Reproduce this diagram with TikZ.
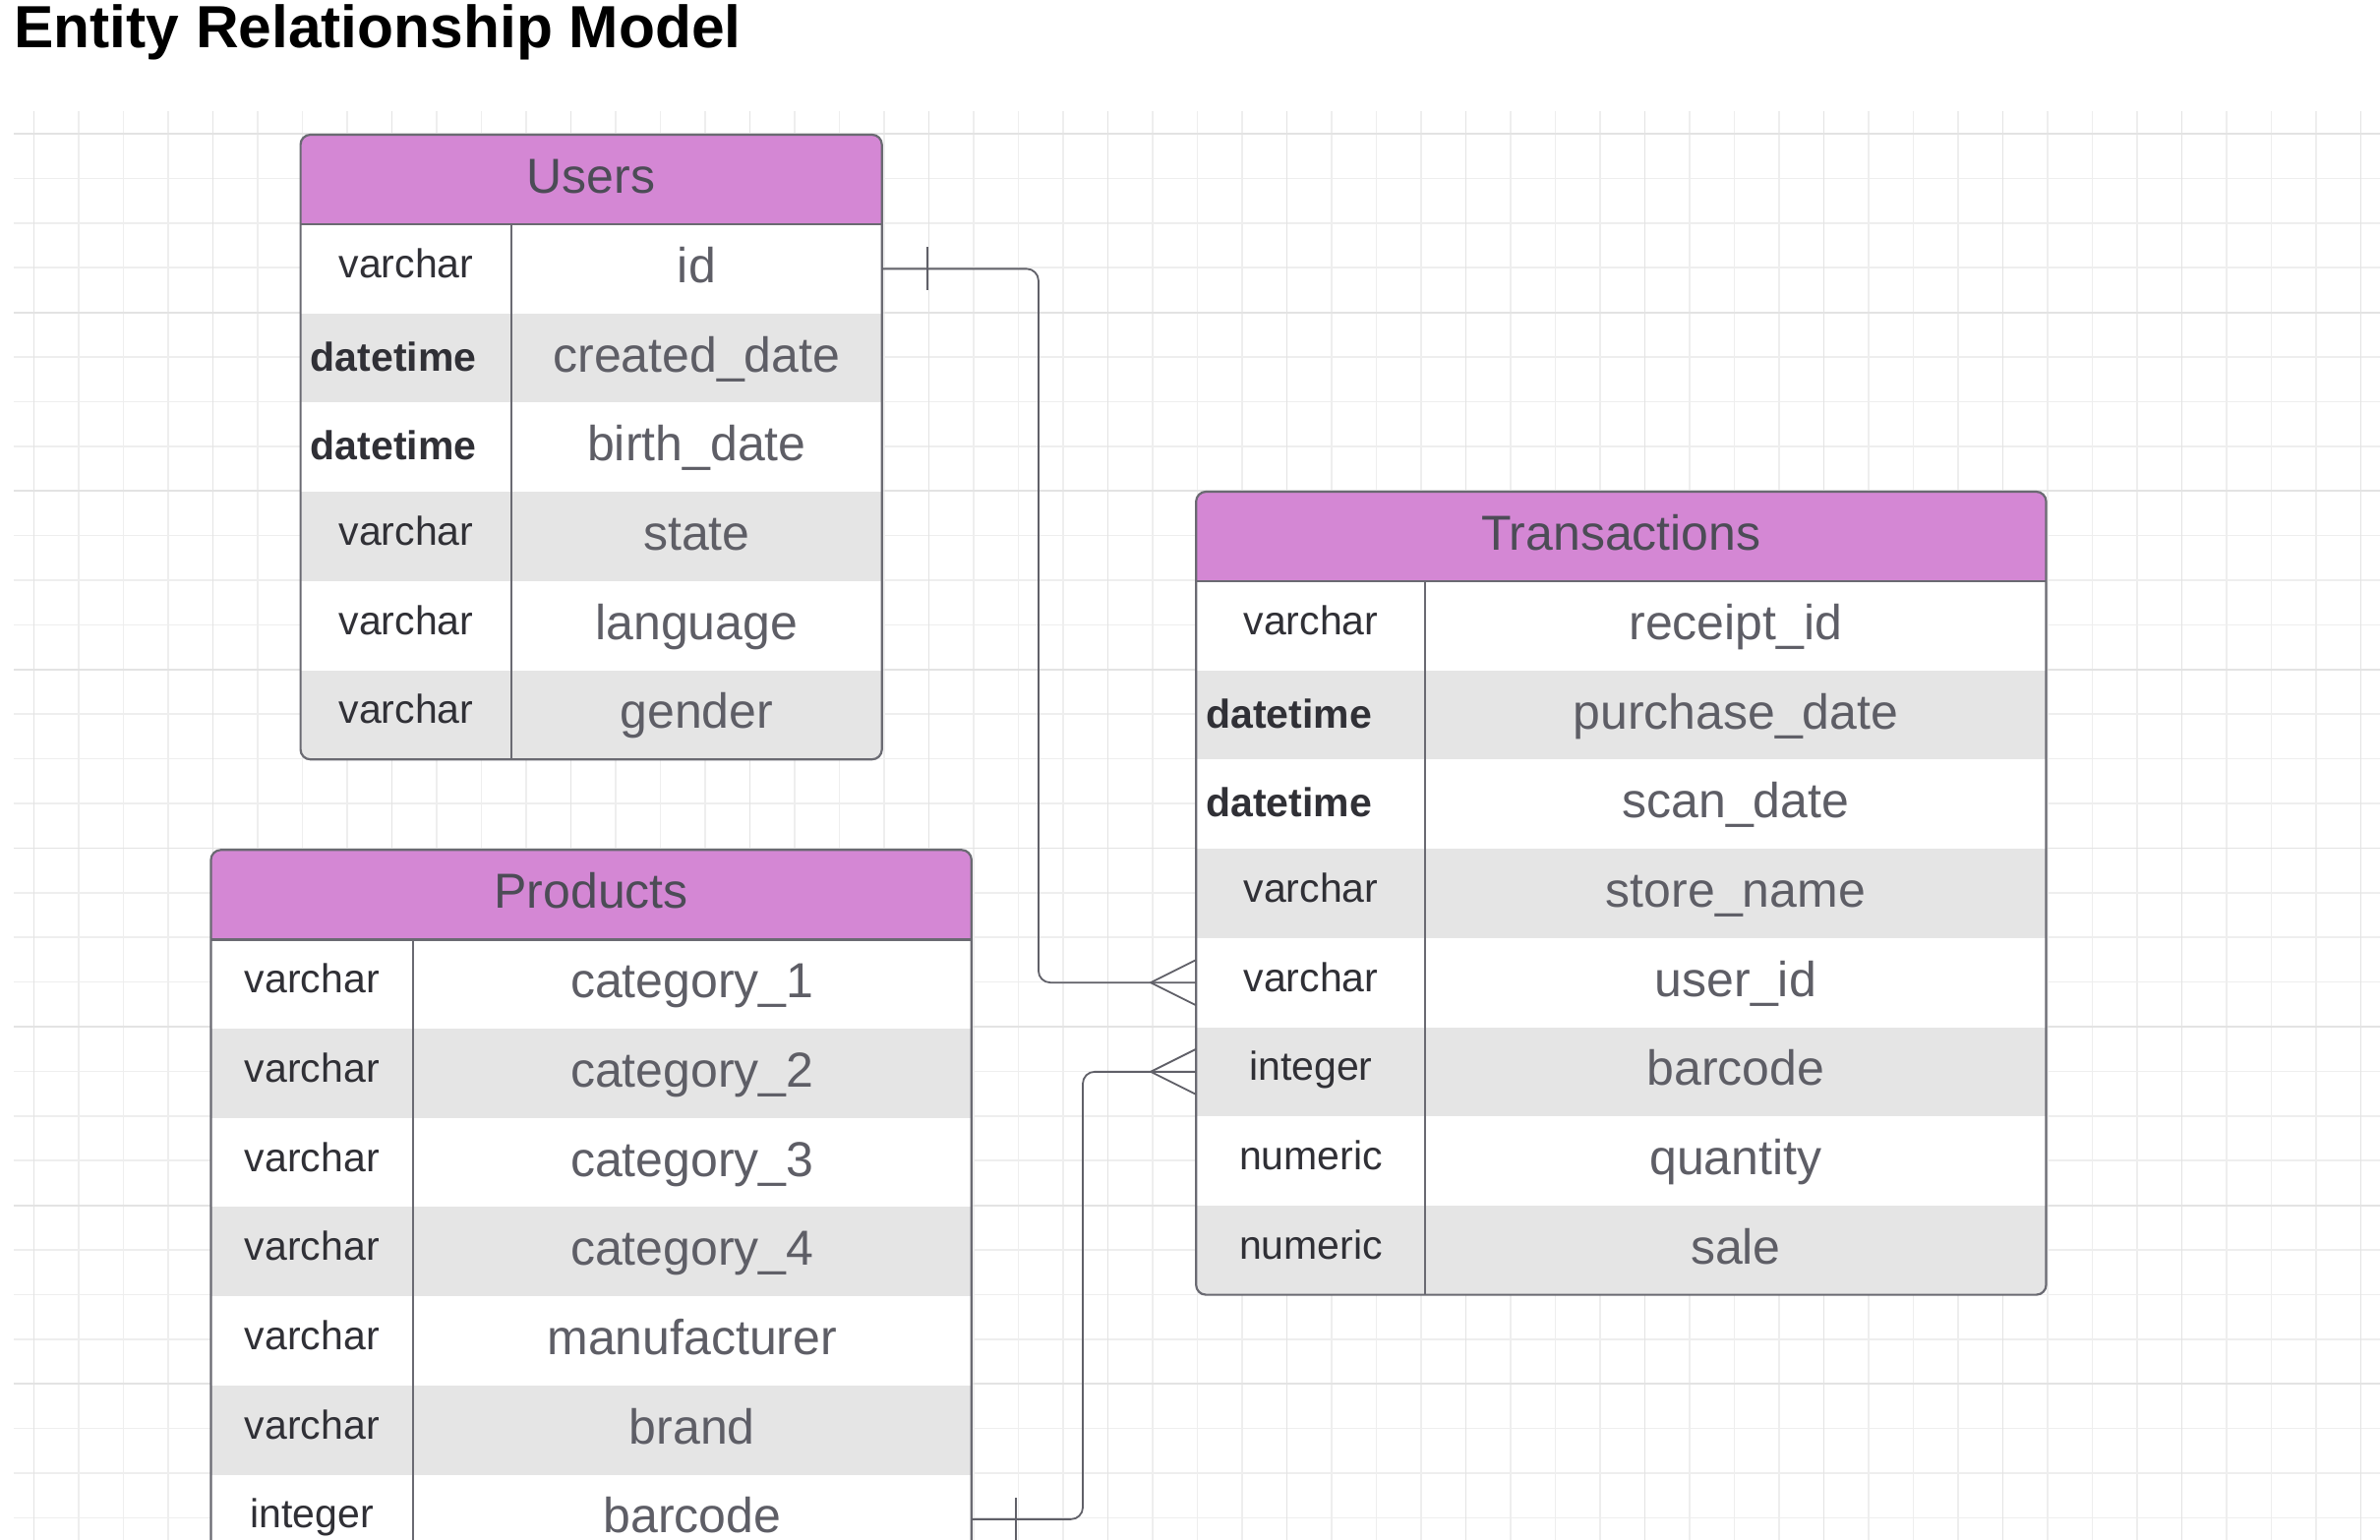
\documentclass[tikz,border=0pt]{standalone}
\usepackage{fontspec}
\setmainfont{Liberation Sans}
\definecolor{hdrpink}{HTML}{D487D4}
\definecolor{rowgray}{HTML}{E5E5E5}
\definecolor{edgecol}{HTML}{6A6A72}
\definecolor{hdrtext}{HTML}{4C4C56}
\definecolor{fieldtext}{HTML}{5E5E66}
\definecolor{typetext}{HTML}{303036}
\definecolor{gridminor}{HTML}{EEEEEE}
\definecolor{gridmajor}{HTML}{E3E3E3}
\definecolor{wirecol}{HTML}{606068}
\tikzset{
  gridline/.style={gridminor, line width=1.6pt},
  gridbold/.style={gridmajor, line width=1.8pt},
  hdrtitle/.style={inner sep=0pt, minimum height=91pt, text height=38pt, text depth=10pt,
    font=\fontsize{50}{60}\selectfont, text=hdrtext},
  fieldcell/.style={inner sep=0pt, minimum height=90.7pt, text height=38pt, text depth=10pt,
    font=\fontsize{50}{60}\selectfont, text=fieldtext},
  typecell/.style={anchor=west, inner sep=0pt, minimum width=\erdTW pt, minimum height=90.7pt,
    text height=30pt, text depth=12pt, font=\fontsize{41}{49}\selectfont, text=typetext},
  typebold/.style={anchor=west, xshift=10pt, inner sep=0pt, minimum height=90.7pt,
    text height=36pt, text depth=10pt, font=\bfseries\fontsize{41}{49}\selectfont, text=typetext},
  rowbox/.style={inner sep=0pt, minimum height=90.7pt},
  edgeline/.style={edgecol, line width=2.2pt},
  wire/.style={wirecol, line width=1.8pt, line join=round},
}
% #1 prefix, #2 title, #3 L, #4 D, #5 R, #6 T, #7 rows, #8 list name/type/field/style
\newcommand\erdtable[8]{%
  \pgfmathsetmacro\erdHB{#6+91}%
  \pgfmathsetmacro\erdB{#6+91+90.7*#7}%
  \pgfmathsetmacro\erdTW{#4-#3}%
  \begin{scope}
    \clip[rounded corners=10pt] (#3,#6) rectangle (#5,\erdB);
    \fill[white] (#3,#6) rectangle (#5,\erdB);
    \fill[hdrpink] (#3,#6) rectangle (#5,\erdHB);
    \foreach \nm/\ty/\fd/\st [count=\i] in {#8} {
      \pgfmathsetmacro\ya{\erdHB+90.7*(\i-1)}
      \ifodd\i\else\fill[rowgray] (#3,\ya) rectangle (#5,{\ya+90.7});\fi
    }
  \end{scope}
  \node[hdrtitle, minimum width={(#5-#3)*1pt}] (#1) at ({(#3+#5)/2},{#6+45.5}) {#2};
  \foreach \nm/\ty/\fd/\st [count=\i] in {#8} {
    \pgfmathsetmacro\yc{\erdHB+90.7*(\i-0.5)}
    \node[rowbox, minimum width={(#5-#3)*1pt}] (#1-\nm) at ({(#3+#5)/2},\yc) {};
    \node[fieldcell, minimum width={(#5-#4)*1pt}] (#1-\nm-f) at ({(#4+#5)/2},\yc) {\fd};
    \node[\st] (#1-\nm-t) at (#3,\yc) {\ty};
  }
  \draw[edgeline, line width=2.8pt] (#3,\erdHB) -- (#5,\erdHB);
  \draw[edgeline] (#4,\erdHB) -- (#4,\erdB);
  \draw[edgeline, rounded corners=10pt] (#3,#6) rectangle (#5,\erdB);
}
\begin{document}
\begin{tikzpicture}[x=1pt,y=-1pt]
\useasboundingbox (0,0) rectangle (2420,1566);
\clip (0,0) rectangle (2420,1566);
\fill[white] (0,0) rectangle (2420,1566);
% grid
\foreach \k in {0,...,52} \draw[gridline] ({34.5+45.5*\k},113) -- ({34.5+45.5*\k},1566);
\foreach \k in {0,...,31} \draw[gridline] (14,{136+45.4*\k}) -- (2420,{136+45.4*\k});
\foreach \k in {0,4,...,52} \draw[gridbold] ({34.5+45.5*\k},113) -- ({34.5+45.5*\k},1566);
\foreach \k in {0,4,...,31} \draw[gridbold] (14,{136+45.4*\k}) -- (2420,{136+45.4*\k});
% title
\node[anchor=base west, inner sep=0pt, font=\bfseries\fontsize{60.5}{72}\selectfont] (title) at (14,48) {Entity Relationship Model};
% tables
\erdtable{u}{Users}{305.6}{520}{896.7}{137}{6}{%
  id/varchar/id/typecell,
  created/datetime/created\_date/typebold,
  birth/datetime/birth\_date/typebold,
  state/varchar/state/typecell,
  language/varchar/language/typecell,
  gender/varchar/gender/typecell}
\erdtable{t}{Transactions}{1216.2}{1449.3}{2080.5}{500}{8}{%
  receipt/varchar/receipt\_id/typecell,
  purchase/datetime/purchase\_date/typebold,
  scan/datetime/scan\_date/typebold,
  store/varchar/store\_name/typecell,
  userid/varchar/user\_id/typecell,
  barcode/integer/barcode/typecell,
  quantity/numeric/quantity/typecell,
  sale/numeric/sale/typecell}
\erdtable{p}{Products}{214.5}{419.8}{987.8}{864.3}{7}{%
  cat1/varchar/category\_1/typecell,
  cat2/varchar/category\_2/typecell,
  cat3/varchar/category\_3/typecell,
  cat4/varchar/category\_4/typecell,
  manufacturer/varchar/manufacturer/typecell,
  brand/varchar/brand/typecell,
  barcode/integer/barcode/typecell}
% connectors
\draw[wire, rounded corners=12pt] (u-id.east) -- ++(159,0) |- (t-userid.west);
\draw[wire] ([xshift=46pt,yshift=22pt]u-id.east) -- ([xshift=46pt,yshift=-22pt]u-id.east);
\draw[wire] ([yshift=23pt]t-userid.west) -- ([xshift=-46pt]t-userid.west) -- ([yshift=-23pt]t-userid.west);
\draw[wire, rounded corners=12pt] (p-barcode.east) -- ++(113,0) |- (t-barcode.west);
\draw[wire] ([xshift=45pt,yshift=22pt]p-barcode.east) -- ([xshift=45pt,yshift=-22pt]p-barcode.east);
\draw[wire] ([yshift=23pt]t-barcode.west) -- ([xshift=-46pt]t-barcode.west) -- ([yshift=-23pt]t-barcode.west);
\end{tikzpicture}
\end{document}
